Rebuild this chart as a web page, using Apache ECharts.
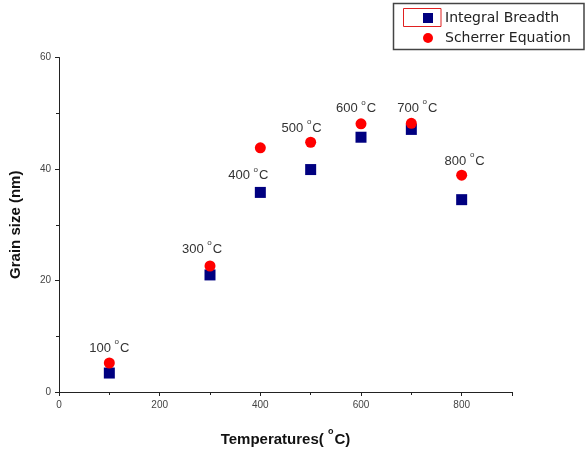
<!DOCTYPE html>
<html>
<head>
<meta charset="utf-8">
<script src="https://cdn.jsdelivr.net/npm/echarts@6/dist/echarts.min.js"></script>
<style>
  html, body { margin: 0; padding: 0; background: #fff; }
  #chart { width: 585px; height: 452px; }
</style>
</head>
<body>
<div id="chart"></div>
<script>
// Annealing temperatures (°C) and grain sizes (nm) from two methods
var temperatures = [100, 300, 400, 500, 600, 700, 800];
var integralBreadth = [3.4, 21.0, 35.8, 39.9, 45.7, 47.1, 34.5];
var scherrerEquation = [5.2, 22.6, 43.8, 44.8, 48.1, 48.2, 38.9];
var tempLabels = ['100', '300', '400', '500', '600', '700', '800'];
var xTicks = [0, 200, 400, 600, 800];
var yTicks = [0, 20, 40, 60];

// label offsets around each Scherrer point
var labelOffsets = [[0, -17], [-8, -19], [-12, 26], [-9, -16], [-5, -17], [6, -17], [3, -16]];

var baseFont = 'Liberation Sans, Arial, sans-serif';

var chart = echarts.init(document.getElementById('chart'), null, { renderer: 'canvas' });

var scherrerData = temperatures.map(function (t, i) {
  return {
    value: [t, scherrerEquation[i]],
    label: {
      show: true,
      position: 'inside',
      offset: labelOffsets[i],
      formatter: '{n|' + tempLabels[i] + ' }{s|o}{n|C}',
      rich: {
        n: { fontSize: 13, lineHeight: 17, color: '#333', fontFamily: baseFont, verticalAlign: 'bottom' },
        s: { fontSize: 8, color: '#333', fontFamily: baseFont, verticalAlign: 'top', padding: [0, 1, 0, 0] }
      }
    }
  };
});

chart.setOption({
  animation: false,
  backgroundColor: '#fff',
  grid: { left: 59, right: 73, top: 57.5, bottom: 60, containLabel: false, outerBoundsMode: 'none' },
  legend: {
    orient: 'vertical',
    left: 418,
    top: 6,
    itemWidth: 10,
    itemHeight: 10,
    itemGap: 6,
    textStyle: { fontFamily: 'DejaVu Sans, sans-serif', fontSize: 14, color: '#222', padding: [0, 0, 0, 7] },
    data: [
      { name: 'Integral Breadth', icon: 'rect' },
      { name: 'Scherrer Equation', icon: 'circle' }
    ]
  },
  graphic: [
    {
      type: 'rect',
      shape: { x: 393.5, y: 3.5, width: 190.5, height: 46 },
      style: { fill: 'none', stroke: '#444', lineWidth: 1.5 },
      z: 10
    },
    {
      type: 'rect',
      shape: { x: 403.5, y: 8.5, width: 37.5, height: 18 },
      style: { fill: 'none', stroke: '#e02020', lineWidth: 1 },
      z: 10
    }
  ],
  xAxis: {
    type: 'value',
    min: 0,
    max: 900,
    interval: 200,
    name: '{t|Temperatures( }{s|o}{t|C)}',
    nameLocation: 'middle',
    nameGap: 35,
    nameTextStyle: {
      rich: {
        t: { fontSize: 15, lineHeight: 20, fontWeight: 'bold', color: '#111', fontFamily: baseFont, verticalAlign: 'bottom' },
        s: { fontSize: 9, fontWeight: 'bold', color: '#111', fontFamily: baseFont, verticalAlign: 'top', padding: [0, 1, 0, 0] }
      }
    },
    splitLine: { show: false },
    axisLine: { show: true, onZero: false, lineStyle: { color: '#222', width: 1 } },
    axisTick: { show: true, length: 4, lineStyle: { color: '#222' } },
    minorTick: { show: true, splitNumber: 2, length: 3, lineStyle: { color: '#222' } },
    axisLabel: {
      color: '#444',
      fontSize: 10,
      fontFamily: baseFont,
      margin: 8,
      formatter: function (v) { return xTicks.indexOf(v) >= 0 ? String(v) : ''; }
    }
  },
  yAxis: {
    type: 'value',
    min: 0,
    max: 60,
    interval: 20,
    name: 'Grain size (nm)',
    nameLocation: 'middle',
    nameGap: 36,
    nameTextStyle: { fontSize: 15, fontWeight: 'bold', color: '#111', fontFamily: baseFont },
    splitLine: { show: false },
    axisLine: { show: true, onZero: false, lineStyle: { color: '#222', width: 1 } },
    axisTick: { show: true, length: 4, lineStyle: { color: '#222' } },
    minorTick: { show: true, splitNumber: 2, length: 3, lineStyle: { color: '#222' } },
    axisLabel: {
      color: '#444',
      fontSize: 10,
      fontFamily: baseFont,
      margin: 8,
      formatter: function (v) { return yTicks.indexOf(v) >= 0 ? String(v) : ''; }
    }
  },
  series: [
    {
      name: 'Integral Breadth',
      type: 'scatter',
      symbol: 'rect',
      symbolSize: 11,
      itemStyle: { color: '#000080', opacity: 1 },
      data: temperatures.map(function (t, i) { return [t, integralBreadth[i]]; }),
      z: 2
    },
    {
      name: 'Scherrer Equation',
      type: 'scatter',
      symbol: 'circle',
      symbolSize: 11,
      itemStyle: { color: '#ff0000', opacity: 1 },
      data: scherrerData,
      z: 3
    }
  ]
});
</script>
</body>
</html>
